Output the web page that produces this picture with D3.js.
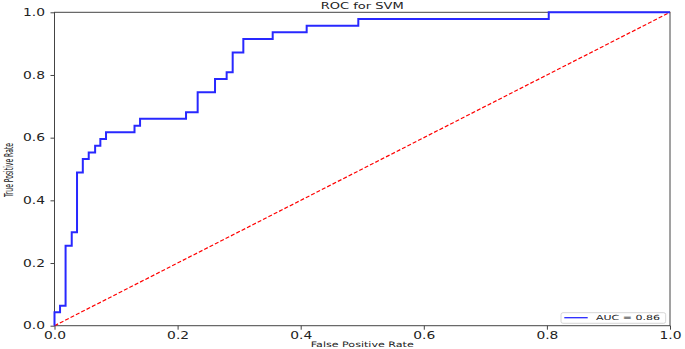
<!DOCTYPE html>
<html>
<head>
<meta charset="utf-8">
<script src="https://cdn.jsdelivr.net/npm/d3@7"></script>
<style>
  html, body { margin: 0; padding: 0; background: #fff; }
  svg { display: block; }
  text { font-family: "DejaVu Sans", sans-serif; fill: #222; }
</style>
</head>
<body>
<svg id="chart" width="685" height="349"></svg>
<script>
// ROC curve vertices (step-after)
const fpr = [0, 0, 0.009, 0.018, 0.028, 0.0366, 0.046, 0.0556, 0.066, 0.0745, 0.0837, 0.130, 0.139,
             0.2137, 0.2326, 0.2608, 0.2797, 0.2895, 0.3068, 0.3545, 0.4097, 0.4936, 0.803, 1.0];
const tpr = [0, 0.043, 0.064, 0.255, 0.298, 0.489, 0.532, 0.553, 0.574, 0.596, 0.617, 0.638, 0.660,
             0.681, 0.745, 0.787, 0.809, 0.872, 0.915, 0.936, 0.957, 0.979, 1.0, 1.0];
const diagX = [0, 1];
const diagY = [0, 1];
const xTicks = [0, 0.2, 0.4, 0.6, 0.8, 1.0];
const yTicks = [0, 0.2, 0.4, 0.6, 0.8, 1.0];
const aucLabel = "AUC = 0.86";
const title = "ROC for SVM";
const xTitle = "False Positive Rate";
const yTitle = "True Positive Rate";

const svg = d3.select("#chart");
const L = 54.5, R = 670, T = 12.3, B = 325.7;
const x = d3.scaleLinear().domain([0, 1]).range([L, R]);
const y = d3.scaleLinear().domain([0, 1]).range([B, T]);

// axes
const xAxis = svg.append("g").attr("transform", `translate(0,${B})`)
  .call(d3.axisBottom(x).tickValues(xTicks).tickFormat(d3.format(".1f")).tickSize(4).tickPadding(1.5).tickSizeOuter(0));
const yAxis = svg.append("g").attr("transform", `translate(${L},0)`)
  .call(d3.axisLeft(y).tickValues(yTicks).tickFormat(d3.format(".1f")).tickSize(4).tickPadding(5.5).tickSizeOuter(0));
[xAxis, yAxis].forEach(g => {
  g.select(".domain").remove();
  g.selectAll(".tick line").attr("stroke", "#444").attr("stroke-width", 1);
  g.selectAll(".tick text").attr("font-size", 10.3).attr("fill", "#1a1a1a")
    .attr("textLength", 22).attr("lengthAdjust", "spacingAndGlyphs");
});

// frame
svg.append("rect").attr("x", L).attr("y", T).attr("width", R - L).attr("height", B - T)
  .attr("fill", "none").attr("stroke", "#444").attr("stroke-width", 1);

// diagonal
svg.append("path")
  .attr("d", d3.line().x((d, i) => x(diagX[i])).y((d, i) => y(diagY[i]))(diagX))
  .attr("fill", "none").attr("stroke", "red").attr("stroke-width", 1.2)
  .attr("stroke-dasharray", "4,2");

// ROC curve
const line = d3.line().x((d, i) => x(fpr[i])).y((d, i) => y(tpr[i])).curve(d3.curveStepAfter);
svg.append("path").attr("d", line(fpr))
  .attr("fill", "none").attr("stroke", "#2828ff").attr("stroke-width", 2);

// title
svg.append("text").attr("x", (L + R) / 2).attr("y", 8.6).attr("text-anchor", "middle")
  .attr("font-size", 8).attr("textLength", 83).attr("lengthAdjust", "spacingAndGlyphs").text(title);

// x label
svg.append("text").attr("x", (L + R) / 2).attr("y", 346.8).attr("text-anchor", "middle")
  .attr("font-size", 7.5).attr("textLength", 103).attr("lengthAdjust", "spacingAndGlyphs").text(xTitle);

// y label
svg.append("text").attr("transform", `translate(13,${(T + B) / 2 + 1}) scale(1.75,1) rotate(-90)`)
  .attr("text-anchor", "middle").attr("font-size", 7.2)
  .attr("textLength", 54).attr("lengthAdjust", "spacingAndGlyphs").text(yTitle);

// legend
const lg = svg.append("g");
lg.append("rect").attr("x", 561).attr("y", 312.7).attr("width", 104.7).attr("height", 10.6)
  .attr("rx", 2).attr("fill", "#fff").attr("fill-opacity", 0.8).attr("stroke", "#ccc").attr("stroke-width", 0.8);
lg.append("line").attr("x1", 564.3).attr("x2", 587.7).attr("y1", 317.7).attr("y2", 317.7)
  .attr("stroke", "#2828ff").attr("stroke-width", 1.3);
lg.append("text").attr("x", 596).attr("y", 320.4).attr("font-size", 7)
  .attr("textLength", 64).attr("lengthAdjust", "spacingAndGlyphs").text(aucLabel);
</script>
</body>
</html>
